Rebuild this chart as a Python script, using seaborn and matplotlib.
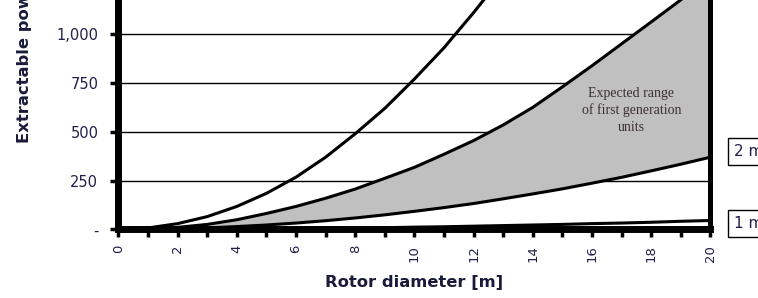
import matplotlib
matplotlib.use('Agg')
import matplotlib.pyplot as plt
import pandas as pd
import seaborn as sns
from matplotlib.ticker import MultipleLocator

# valores (kW) por diametro del rotor
diametro = list(range(21))
p_4ms = [0, 8, 30, 66, 118, 185, 268, 370, 490, 620, 770, 930, 1110, 1300,
         1510, 1730, 1970, 2220, 2490, 2780, 3080]
p_3ms = [0, 3, 11, 26, 50, 82, 118, 160, 207, 262, 318, 385, 455, 535,
         625, 730, 838, 950, 1062, 1175, 1290]
p_2ms = [0, 1, 4, 8, 15, 23, 33, 45, 59, 75, 93, 112, 133, 157,
         182, 208, 237, 267, 300, 334, 370]
p_1ms = [0, 0, 0.5, 1, 2, 3, 4, 6, 7, 9, 12, 14, 17, 20,
         23, 26, 30, 33, 37, 42, 46]
p_05ms = [0, 0, 0, 0, 0, 0.5, 0.5, 1, 1, 1.5, 2, 2, 2.5, 3,
          3, 3.5, 4, 4.5, 5, 5.5, 6]

y_ticks = [0, 250, 500, 750, 1000]
y_labels = ['-', '250', '500', '750', '1,000']
x_ticks = list(range(0, 21, 2))

df = pd.DataFrame({'diametro': diametro, '4 m/s': p_4ms, '3 m/s': p_3ms,
                   '2 m/s': p_2ms, '1 m/s': p_1ms, '0.5 m/s': p_05ms})
largo = df.melt(id_vars='diametro', var_name='velocidad', value_name='potencia')

sns.set_style('white')
plt.rcParams['font.family'] = ['DejaVu Sans']

fig = plt.figure(figsize=(7.58, 2.98), dpi=100)
ax = fig.add_axes([0.1563, 0.2299, 0.781, 0.7701])

# rango esperado (zona gris)
ax.fill_between(df['diametro'], df['2 m/s'], df['3 m/s'], color='#c0c0c0', lw=0, zorder=2)
sns.lineplot(data=largo, x='diametro', y='potencia', units='velocidad', estimator=None,
             color='black', lw=2.2, ax=ax, zorder=3)

ax.set_xlim(0, 20)
ax.set_ylim(0, 1174)
ax.set_axisbelow(True)
ax.grid(axis='y', color='black', lw=1.0)
ax.grid(axis='x', visible=False)

ax.set_yticks(y_ticks, y_labels)
ax.set_xticks(x_ticks)
ax.xaxis.set_minor_locator(MultipleLocator(1))
ax.tick_params(bottom=True, left=True, which='both', direction='out',
               length=6, width=2.5, color='black')
ax.tick_params(axis='x', labelrotation=90, labelsize=9.5, pad=5, labelcolor='#20204a')
ax.tick_params(axis='y', labelsize=10.5, pad=8.5, labelcolor='#20204a')

ax.spines['top'].set_visible(False)
for lado, ancho in [('left', 5), ('bottom', 5), ('right', 3.6)]:
    ax.spines[lado].set_linewidth(ancho)
    ax.spines[lado].set_color('black')

ax.set_xlabel('Rotor diameter [m]', fontsize=11.8, fontweight='bold', color='#1a1a3a')
ax.xaxis.set_label_coords(0.5, -0.2)
ax.set_ylabel('')
fig.text(0.032, 0.52, 'Extractable power [kW]', rotation=90, ha='center', va='bottom',
         fontsize=11.8, fontweight='bold', color='#1a1a3a')

ax.text(17.33, 610, 'Expected range\nof first generation\nunits', ha='center', va='center',
        family='Liberation Serif', fontsize=10, color='#3a3030', linespacing=1.35, zorder=4)

for texto, valor in [('2 m/s', 399), ('1 m/s', 31)]:
    ax.text(20.81, valor, texto, ha='left', va='center', fontsize=11, color='#20204a',
            clip_on=False, bbox=dict(boxstyle='square,pad=0.4', fc='white', ec='black', lw=1))

fig.savefig('out.png', dpi=100)
